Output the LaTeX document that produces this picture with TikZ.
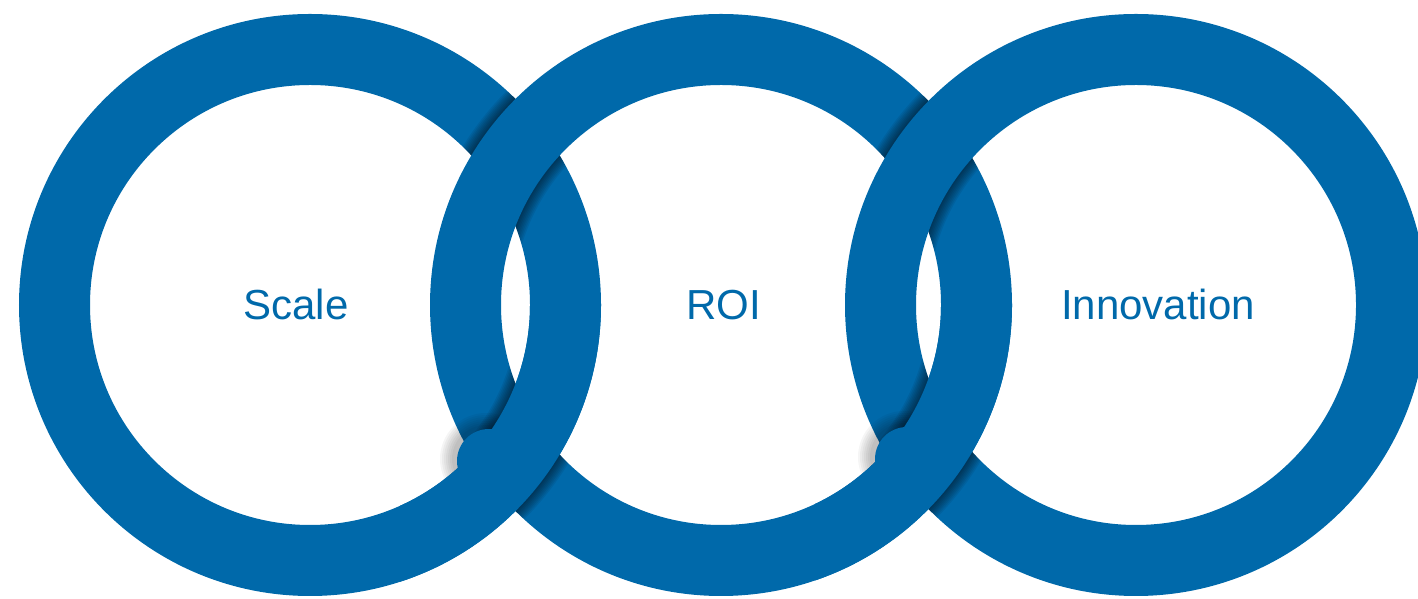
\documentclass[tikz,border=0pt]{standalone}
\usepackage{fontspec}
\setmainfont{Liberation Sans}
\definecolor{ringblue}{RGB}{0,105,170}
\tikzset{
  ring/.style={draw=ringblue, line width=71pt},
  edgeshade/.style={draw=black, opacity=0.07},
  bumpshade/.style={fill=black, opacity=0.04},
  ringtext/.style={text=ringblue, font=\fontsize{42}{50}\selectfont, anchor=base, inner sep=0pt},
}
\newcommand\myedgeshadow[2]{\foreach \w in {3,6,...,24}{\draw[edgeshade, line width=\w pt] (#1) circle[radius=#2];}}
\newcommand\mybumpshadow[1]{\foreach \r in {34,36,...,46}{\fill[bumpshade] ([shift={(-3,2)}]#1) circle[radius=\r];}}
\begin{document}
\begin{tikzpicture}[x=1pt,y=1pt]
\useasboundingbox (0,0) rectangle (1418,599);
\clip (0,0) rectangle (1418,599);
\coordinate (A) at (310,294);
\coordinate (B) at (721,294);
\coordinate (C) at (1136,294);
\coordinate (P) at (489,138);
\coordinate (Q) at (907,140);
% ring 1
\draw[ring] (A) circle[radius=255.5];
\begin{scope}[even odd rule]
  \clip (A) circle[radius=291] (A) circle[radius=220];
  \clip (400,294) rectangle (650,599);
  \myedgeshadow{B}{291}
  \myedgeshadow{B}{220}
\end{scope}
% ring 2
\draw[ring] (B) circle[radius=255.5];
\begin{scope}[even odd rule]
  \clip (B) circle[radius=291] (B) circle[radius=220];
  \clip (400,0) rectangle (650,294);
  \myedgeshadow{A}{291}
  \myedgeshadow{A}{220}
\end{scope}
\mybumpshadow{P}
\begin{scope}
  \clip (400,0) rectangle (650,294);
  \draw[ring] (A) circle[radius=255.5];
\end{scope}
\fill[ringblue] (P) circle[radius=32];
% shadows on ring 2 at top crossing with ring 3
\begin{scope}[even odd rule]
  \clip (B) circle[radius=291] (B) circle[radius=220];
  \clip (815,294) rectangle (1065,599);
  \myedgeshadow{C}{291}
  \myedgeshadow{C}{220}
\end{scope}
% ring 3
\draw[ring] (C) circle[radius=255.5];
\begin{scope}[even odd rule]
  \clip (C) circle[radius=291] (C) circle[radius=220];
  \clip (815,0) rectangle (1065,294);
  \myedgeshadow{B}{291}
  \myedgeshadow{B}{220}
\end{scope}
\mybumpshadow{Q}
\begin{scope}
  \clip (815,0) rectangle (1065,294);
  \draw[ring] (B) circle[radius=255.5];
\end{scope}
\fill[ringblue] (Q) circle[radius=32];
% labels
\node[ringtext] (scale) at (296,279) {Scale};
\node[ringtext] (roi) at (724,279) {ROI};
\node[ringtext] (innov) at (1158,279) {Innovation};
\end{tikzpicture}
\end{document}
